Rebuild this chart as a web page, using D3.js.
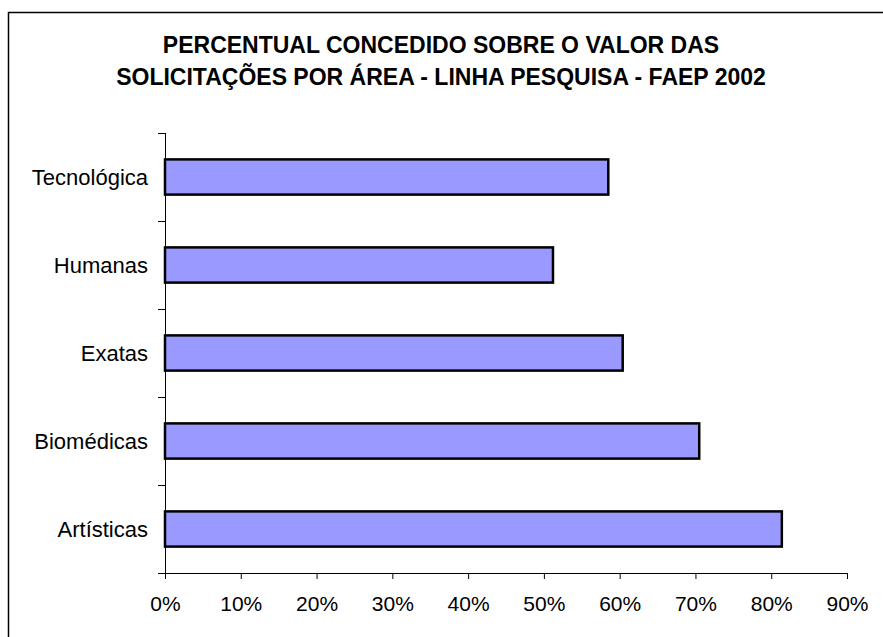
<!DOCTYPE html>
<html>
<head>
<meta charset="utf-8">
<script src="https://cdn.jsdelivr.net/npm/d3@7"></script>
<style>
  body { margin: 0; background: #fff; }
  text { font-family: "Liberation Sans", Arial, sans-serif; }
</style>
</head>
<body>
<div id="chart"></div>
<script>
const titleLines = ["PERCENTUAL CONCEDIDO SOBRE O VALOR DAS", "SOLICITAÇÕES POR ÁREA - LINHA PESQUISA - FAEP 2002"];
const areas = ["Tecnológica", "Humanas", "Exatas", "Biomédicas", "Artísticas"];
const percentual = [58.5, 51.2, 60.4, 70.5, 81.4];
const xTicks = [0, 10, 20, 30, 40, 50, 60, 70, 80, 90];

const W = 883, H = 637;
const margin = { top: 133, right: 36, bottom: 64, left: 165 },
      width = 847 - margin.left,
      height = 573 - margin.top;

const root = d3.select("#chart")
    .append("svg")
    .attr("width", W)
    .attr("height", H);

// outer frame (runs off the right and bottom edges)
root.append("rect")
    .attr("x", 8.5).attr("y", 12.5)
    .attr("width", 900).attr("height", 650)
    .attr("fill", "#fff")
    .attr("stroke", "#000")
    .attr("stroke-width", 1.5);

// title
root.append("text")
    .attr("x", 441)
    .attr("y", 53)
    .attr("text-anchor", "middle")
    .style("font-size", "23px")
    .style("font-weight", "bold")
    .selectAll("tspan")
    .data(titleLines)
    .join("tspan")
    .attr("x", 441)
    .attr("dy", (d, i) => i === 0 ? 0 : 32)
    .text(d => d);

const svg = root.append("g")
    .attr("transform", `translate(${margin.left},${margin.top})`);

const x = d3.scaleLinear()
    .domain([0, 90])
    .range([0, width]);

const y = d3.scaleBand()
    .domain(areas)
    .range([0, height])
    .paddingInner(0.6)
    .paddingOuter(0.3);

// bars
svg.selectAll(".bar")
    .data(areas)
    .join("rect")
    .attr("class", "bar")
    .attr("x", 0)
    .attr("y", d => y(d))
    .attr("width", (d, i) => x(percentual[i]))
    .attr("height", y.bandwidth())
    .attr("fill", "#9999ff")
    .attr("stroke", "#000")
    .attr("stroke-width", 2.5);

// x axis
const xAxis = svg.append("g")
    .attr("transform", `translate(0,${height})`)
    .call(d3.axisBottom(x).tickValues(xTicks).tickFormat(d => d + "%").tickSize(6).tickSizeOuter(0));
xAxis.selectAll("text").style("font-size", "21px").attr("dy", "1.38em").attr("fill", "#000");
xAxis.select(".domain").attr("stroke", "#000");

// y axis: ticks at category boundaries
const bounds = d3.range(areas.length + 1).map(i => i * height / areas.length);
const yAxis = svg.append("g");
yAxis.append("line")
    .attr("x1", 0.5).attr("x2", 0.5)
    .attr("y1", 0).attr("y2", height)
    .attr("stroke", "#000");
yAxis.selectAll(".ytick")
    .data(bounds)
    .join("line")
    .attr("x1", -7).attr("x2", 0)
    .attr("y1", d => Math.round(d) + 0.5).attr("y2", d => Math.round(d) + 0.5)
    .attr("stroke", "#000");
yAxis.selectAll(".ylab")
    .data(areas)
    .join("text")
    .attr("x", -17)
    .attr("y", d => y(d) + y.bandwidth() / 2)
    .attr("dy", "0.35em")
    .attr("text-anchor", "end")
    .style("font-size", "22px")
    .text(d => d);
</script>
</body>
</html>
